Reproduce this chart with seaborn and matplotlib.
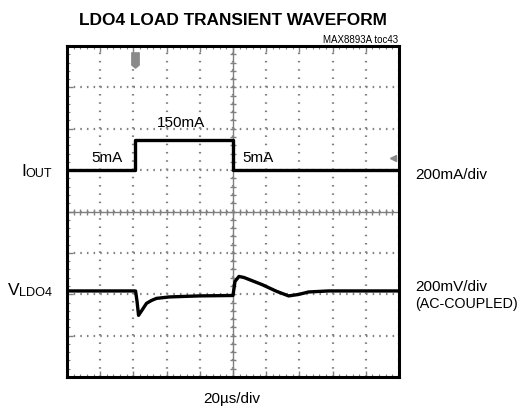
import numpy as np
import pandas as pd
import matplotlib
matplotlib.use("Agg")
import matplotlib.pyplot as plt
from matplotlib.ticker import MultipleLocator
from matplotlib.path import Path
import seaborn as sns

# scope settings
time_per_div = 20      # us/div
iout_per_div = 200     # mA/div
vout_per_div = 200     # mV/div

# IOUT trace (us, mA)
iout_t = [0, 41, 41, 100, 100, 200]
iout_ma = [5, 5, 150, 150, 5, 5]

# VLDO4 trace, AC coupled (us, mV)
vout_t = [0, 41.3, 42.2, 43.1, 45.5, 47.9, 50.9, 53.9, 61.7, 79.6, 100.0,
          101.2, 103.6, 106.6, 117.4, 126.3, 133.5, 139.5, 145.5, 157.5, 200]
vout_mv = [0, 0, -51, -118, -89, -60, -46, -36, -29, -24, -22,
           46, 70, 65, 31, -2, -24, -17, -5, 0, 0]

sns.set_style("white")
plt.rcParams['font.family'] = ['Liberation Sans', 'DejaVu Sans']
plt.rcParams['text.color'] = 'black'

W, H = 518, 412
fig = plt.figure(figsize=(W / 100, H / 100), dpi=100)
x0, y0, x1, y1 = 67, 46, 399, 377
ax = fig.add_axes([x0 / W, 1 - y1 / H, (x1 - x0) / W, (y1 - y0) / H])

# graticule: x in us, y in divisions
tmax = 10 * time_per_div
ax.set_xlim(0, tmax)
ax.set_ylim(0, 8)
grid_c = '#808080'
ax.xaxis.set_major_locator(MultipleLocator(time_per_div))
ax.yaxis.set_major_locator(MultipleLocator(1))
ax.xaxis.set_minor_locator(MultipleLocator(time_per_div / 5))
ax.yaxis.set_minor_locator(MultipleLocator(0.2))
ax.tick_params(which='both', direction='in', top=True, right=True, bottom=True, left=True,
               labelbottom=False, labelleft=False, color=grid_c)
ax.tick_params(which='major', length=4, width=1)
ax.tick_params(which='minor', length=2.5, width=0.8)
ax.grid(axis='x', which='major', color=grid_c, ls=(0, (0.7, 3.025)), lw=1.6)
ax.grid(axis='y', which='major', color=grid_c, ls=(0, (0.7, 2.29)), lw=1.6)
for s in ax.spines.values():
    s.set_linewidth(2.2)
    s.set_color('black')

# center crosshair with ticks
ax.axhline(4, color=grid_c, lw=1.0)
ax.axvline(tmax / 2, color=grid_c, lw=1.0)
ht = np.arange(0, tmax + 0.01, time_per_div / 5)
ax.plot(ht, np.full_like(ht, 4.0), ls='none', marker='|', ms=5, mew=1, color=grid_c)
vt = np.arange(0, 8.01, 0.2)
ax.plot(np.full_like(vt, tmax / 2), vt, ls='none', marker='_', ms=5, mew=1, color=grid_c)

# traces on their own vertical scales
ax_i = ax.twinx()
ax_i.set_ylim(5 - 5 * iout_per_div, 5 + 3 * iout_per_div)
ax_v = ax.twinx()
ax_v.set_ylim(-2.08 * vout_per_div, 5.92 * vout_per_div)
for a in (ax_i, ax_v):
    a.axis('off')

df_i = pd.DataFrame({'t': iout_t, 'i': iout_ma})
df_v = pd.DataFrame({'t': vout_t, 'v': vout_mv})
sns.lineplot(data=df_i, x='t', y='i', ax=ax_i, color='black', lw=2.4, sort=False, estimator=None)
sns.lineplot(data=df_v, x='t', y='v', ax=ax_v, color='black', lw=2.4, sort=False, estimator=None)
ax_i.set_xlim(0, tmax)

# trigger marker and ground marker
trig = Path([(-0.24, 0.5), (0.24, 0.5), (0.24, -0.3), (0, -0.5), (-0.24, -0.3), (-0.24, 0.5)],
            [Path.MOVETO, Path.LINETO, Path.LINETO, Path.LINETO, Path.LINETO, Path.CLOSEPOLY])
ax.plot([iout_t[1]], [7.66], marker=trig, ms=11, color='#8a8a8a', ls='none')
ax.plot([tmax - 3.5], [5.29], marker='<', ms=5, color='#8a8a8a', ls='none')


def ftext(x, y, s, **kw):
    fig.text(x / W, 1 - y / H, s, **kw)


ftext(233, 25, 'LDO4 LOAD TRANSIENT WAVEFORM', ha='center', va='baseline',
      fontsize=12.4, fontweight='heavy')
ftext(398, 43, 'MAX8893A toc43', ha='right', va='baseline', fontsize=7)

ftext(181, 127, '150mA', ha='center', va='baseline', fontsize=11)
ftext(107, 162, '5mA', ha='center', va='baseline', fontsize=11)
ftext(258, 162, '5mA', ha='center', va='baseline', fontsize=11)

ftext(21, 176, 'I', ha='left', va='baseline', fontsize=12.5)
ftext(25.5, 177, 'OUT', ha='left', va='baseline', fontsize=9)
ftext(8, 295, 'V', ha='left', va='baseline', fontsize=12.5)
ftext(19.5, 296, 'LDO4', ha='left', va='baseline', fontsize=9.2)

ftext(415, 179, '200mA/div', ha='left', va='baseline', fontsize=11)
ftext(415, 291, '200mV/div', ha='left', va='baseline', fontsize=11)
ftext(415, 308, '(AC-COUPLED)', ha='left', va='baseline', fontsize=10.3)
ftext(232, 403, '20\u00b5s/div', ha='center', va='baseline', fontsize=11)

fig.savefig('out.png', dpi=100)
